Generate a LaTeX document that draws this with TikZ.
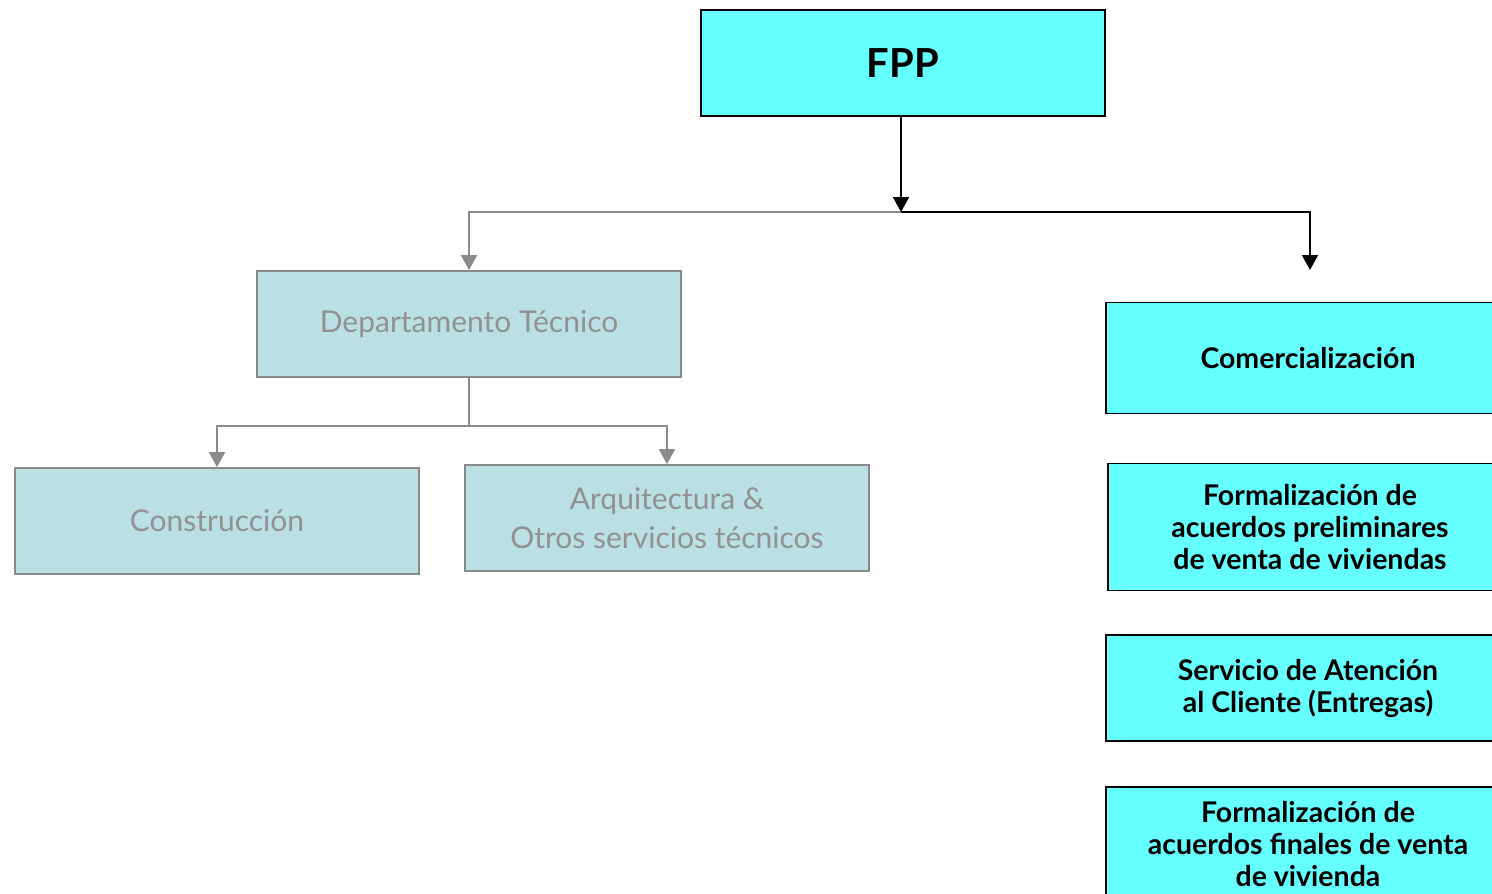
\documentclass[tikz,border=0pt]{standalone}
\usepackage{fontspec}
\setmainfont{Lato}
\usetikzlibrary{arrows.meta}
\definecolor{cyanbox}{HTML}{66FFFF}
\definecolor{tealbox}{HTML}{BAE0E3}
\definecolor{greyline}{HTML}{8A8A8A}
\definecolor{greytext}{HTML}{919191}

\begin{document}
\begin{tikzpicture}[x=1pt,y=-1pt,
    hibox/.style={draw=black,line width=1.8pt,fill=cyanbox,minimum width=404pt,minimum height=106pt,
      align=center,font=\bfseries\fontsize{28.5}{32}\selectfont},
    lobox/.style={draw=greyline,line width=1.8pt,fill=tealbox,minimum width=404pt,minimum height=106pt,
      align=center,text=greytext,font=\fontsize{30}{39}\selectfont},
    blkline/.style={draw=black,line width=2pt},
    blkarrow/.style={blkline,-{Triangle[width=16pt,length=15pt]}},
    gryline/.style={draw=greyline,line width=2pt},
    gryarrow/.style={gryline,-{Triangle[width=16pt,length=15pt]}}]
    \useasboundingbox (0,0) rectangle (1492,894);
    \node[hibox,font=\bfseries\fontsize{40}{44}\selectfont] (a) at (903,63) {FPP};
    \node[lobox,minimum width=424pt] (b) at (469,324) {Departamento Técnico};
    \node[lobox] (c) at (217,521) {Construcción};
    \node[lobox] (d) at (667,518) {Arquitectura \&\\Otros servicios técnicos};
    \node[hibox,minimum height=111pt] (e) at (1308,358) {Comercialización};
    \node[hibox,minimum height=127pt] (f) at (1310,527) {Formalización de\\acuerdos preliminares\\de venta de viviendas};
    \node[hibox] (g) at (1308,688) {Servicio de Atención\\al Cliente (Entregas)};
    \node[hibox,minimum height=114pt] (h) at (1308,844) {Formalización de\\acuerdos finales de venta\\de vivienda};
    \coordinate (j) at (901,212);
    \coordinate (k) at (469,426);
    \coordinate (m) at (1310,270);
    \draw [gryarrow] (j) -| (b.north);
    \draw [blkarrow] (a.south -| j) -- (j);
    \draw [blkarrow] (j) -| (m);
    \draw [gryline] (b.south) -- (k);
    \draw [gryarrow] (k) -| (c.north);
    \draw [gryarrow] (k) -| (d.north);
\end{tikzpicture}
\end{document}
